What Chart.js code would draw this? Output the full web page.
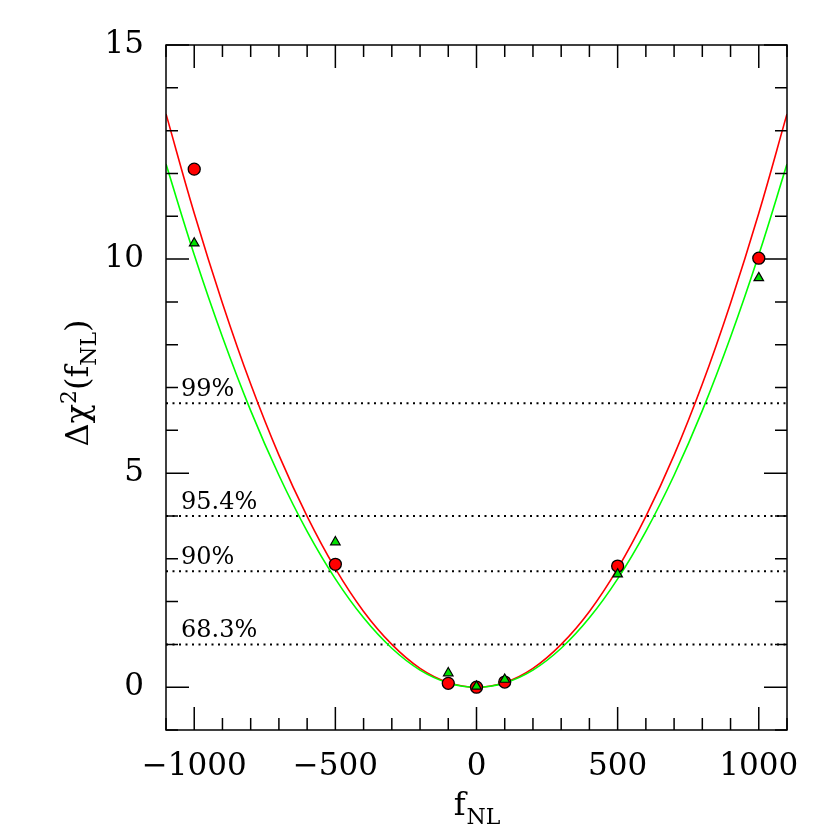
<!DOCTYPE html>
<html>
<head>
<meta charset="utf-8">
<script src="https://cdn.jsdelivr.net/npm/chart.js@4/dist/chart.umd.min.js"></script>
<style>
  html, body { margin: 0; padding: 0; background: #fff; }
  #wrap { width: 830px; height: 830px; }
</style>
</head>
<body>
<div id="wrap"><canvas id="chi2Chart" width="830" height="830"></canvas></div>
<script>
// axis ranges and ticks
const xMin = -1100, xMax = 1100;
const yMin = -1, yMax = 15;
const xTicks = [-1000, -500, 0, 500, 1000];
const yTicks = [0, 5, 10, 15];

// fitted curves
const fitX = [-1100, -1000, -900, -800, -700, -600, -500, -400, -300, -200, -100, 0,
  100, 200, 300, 400, 500, 600, 700, 800, 900, 1000, 1100];
const redFit = [13.39, 11.07, 8.97, 7.08, 5.42, 3.99, 2.77, 1.77, 1.00, 0.44, 0.11, 0,
  0.11, 0.44, 1.00, 1.77, 2.77, 3.99, 5.42, 7.08, 8.97, 11.07, 13.39];
const greenFit = [12.22, 10.10, 8.18, 6.46, 4.95, 3.64, 2.53, 1.62, 0.91, 0.40, 0.10, 0,
  0.10, 0.40, 0.91, 1.62, 2.53, 3.64, 4.95, 6.46, 8.18, 10.10, 12.22];

// measured points
const pointX = [-1000, -500, -100, 0, 100, 500, 1000];
const redPts = [12.1, 2.87, 0.09, 0, 0.12, 2.83, 10.02];
const greenPts = [10.37, 3.39, 0.33, 0.02, 0.18, 2.64, 9.56];

// confidence levels
const levelValues = [1.0, 2.71, 4.0, 6.63];
const levelLabels = ['68.3%', '90%', '95.4%', '99%'];

const FONT = '"DejaVu Serif", serif';
const pairs = (xs, ys) => xs.map((x, i) => ({ x: x, y: ys[i] }));

const datasets = [
  {
    label: 'green points', data: pairs(pointX, greenPts), showLine: false, order: 0,
    pointStyle: 'triangle', pointRadius: 5.5, backgroundColor: '#00e000',
    borderColor: '#000', borderWidth: 1.2
  },
  {
    label: 'red points', data: pairs(pointX, redPts), showLine: false, order: 1,
    pointStyle: 'circle', pointRadius: 6, backgroundColor: '#ff0000',
    borderColor: '#000', borderWidth: 1.3
  },
  {
    label: 'green fit', data: pairs(fitX, greenFit), showLine: true, order: 2,
    borderColor: '#00ff00', borderWidth: 1.6, pointRadius: 0, tension: 0.4, fill: false
  },
  {
    label: 'red fit', data: pairs(fitX, redFit), showLine: true, order: 2,
    borderColor: '#ff0000', borderWidth: 1.6, pointRadius: 0, tension: 0.4, fill: false
  }
];

levelValues.forEach((v, i) => {
  datasets.push({
    label: levelLabels[i], data: [{ x: xMin, y: v }, { x: xMax, y: v }],
    showLine: true, order: 3, borderColor: '#000', borderWidth: 2,
    borderDash: [2, 4.5], pointRadius: 0, fill: false
  });
});

// frame, inward ticks, level labels and axis titles
const framePlugin = {
  id: 'frame',
  afterDatasetsDraw(chart) {
    const { ctx, chartArea: a, scales } = chart;
    const xs = scales.x, ys = scales.y;
    ctx.save();
    ctx.strokeStyle = '#000';
    ctx.lineWidth = 1.5;
    ctx.strokeRect(a.left, a.top, a.right - a.left, a.bottom - a.top);

    ctx.beginPath();
    for (let v = -1100; v <= 1100; v += 100) {
      const px = xs.getPixelForValue(v);
      const len = v % 500 === 0 ? 23 : 12;
      ctx.moveTo(px, a.bottom); ctx.lineTo(px, a.bottom - len);
      ctx.moveTo(px, a.top); ctx.lineTo(px, a.top + len);
    }
    for (let v = -1; v <= 15; v += 1) {
      const py = ys.getPixelForValue(v);
      const len = v % 5 === 0 ? 23 : 12;
      ctx.moveTo(a.left, py); ctx.lineTo(a.left + len, py);
      ctx.moveTo(a.right, py); ctx.lineTo(a.right - len, py);
    }
    ctx.stroke();

    // level labels
    ctx.fillStyle = '#000';
    ctx.font = '24px ' + FONT;
    ctx.textAlign = 'left';
    ctx.textBaseline = 'alphabetic';
    levelValues.forEach((v, i) => {
      ctx.fillText(levelLabels[i], a.left + 15, ys.getPixelForValue(v) - 7);
    });

    // x title: f_NL
    ctx.font = '32px ' + FONT;
    const fW = ctx.measureText('f').width;
    ctx.font = '22px ' + FONT;
    const nlW = ctx.measureText('NL').width;
    let x0 = (a.left + a.right) / 2 - (fW + nlW) / 2;
    ctx.font = '32px ' + FONT;
    ctx.fillText('f', x0, 815);
    ctx.font = '22px ' + FONT;
    ctx.fillText('NL', x0 + fW + 1, 824);

    // y title: Δχ²(f_NL)
    ctx.translate(88, 383);
    ctx.rotate(-Math.PI / 2);
    const parts = [
      { t: 'Δχ', s: 32, dy: 0 },
      { t: '2', s: 22, dy: -12 },
      { t: '(f', s: 32, dy: 0 },
      { t: 'NL', s: 22, dy: 8 },
      { t: ')', s: 32, dy: 0 }
    ];
    let total = 0;
    parts.forEach(p => { ctx.font = p.s + 'px ' + FONT; p.w = ctx.measureText(p.t).width; total += p.w; });
    let cx = -total / 2;
    parts.forEach(p => {
      ctx.font = p.s + 'px ' + FONT;
      ctx.fillText(p.t, cx, p.dy);
      cx += p.w;
    });
    ctx.restore();
  }
};

new Chart(document.getElementById('chi2Chart'), {
  type: 'scatter',
  data: { datasets: datasets },
  options: {
    responsive: false,
    animation: false,
    layout: { padding: { top: 45, right: 43, left: 0, bottom: 0 } },
    plugins: { legend: { display: false }, tooltip: { enabled: false } },
    scales: {
      x: {
        type: 'linear', min: xMin, max: xMax,
        afterBuildTicks: s => { s.ticks = xTicks.map(v => ({ value: v })); },
        afterFit: s => { s.height = 100; },
        grid: { display: false, drawTicks: false },
        border: { display: false },
        ticks: {
          padding: 18, color: '#000', font: { family: FONT, size: 31 },
          callback: v => (v < 0 ? '\u2212' + Math.abs(v) : String(v))
        }
      },
      y: {
        type: 'linear', min: yMin, max: yMax,
        afterBuildTicks: s => { s.ticks = yTicks.map(v => ({ value: v })); },
        afterFit: s => { s.width = 166; },
        grid: { display: false, drawTicks: false },
        border: { display: false },
        ticks: { padding: 22, color: '#000', font: { family: FONT, size: 31 } }
      }
    }
  },
  plugins: [framePlugin]
});
</script>
</body>
</html>
